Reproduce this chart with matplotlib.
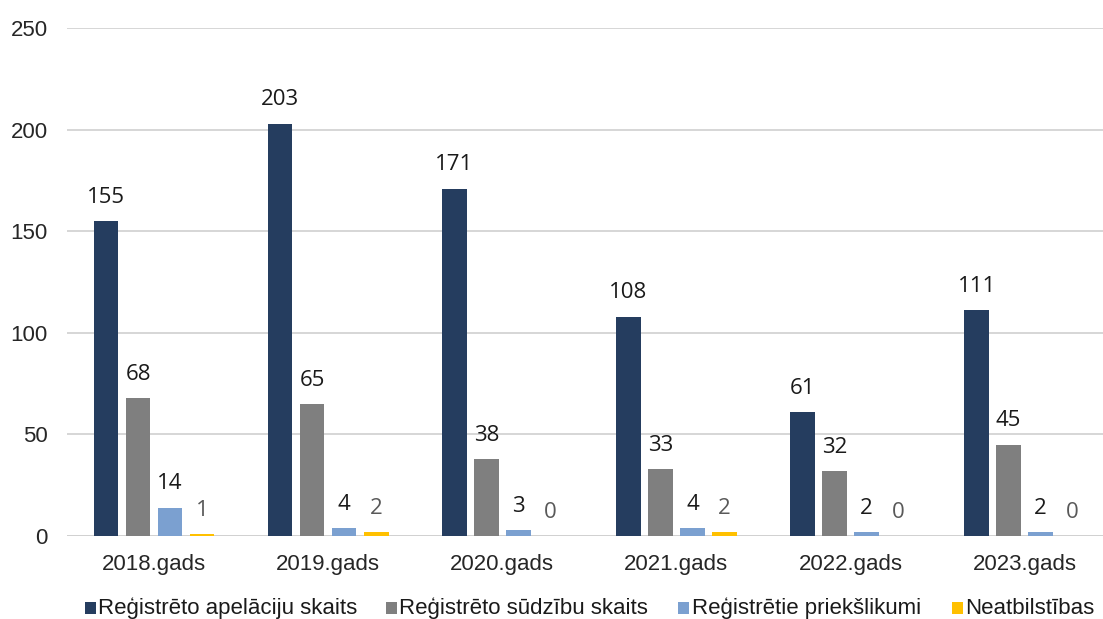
import numpy as np
import matplotlib.pyplot as plt
from matplotlib.patches import Rectangle

plt.rcParams['font.family'] = ['Liberation Sans', 'DejaVu Sans']

years = ['2018.gads', '2019.gads', '2020.gads', '2021.gads', '2022.gads', '2023.gads']
apelacijas = [155, 203, 171, 108, 61, 111]
sudzibas = [68, 65, 38, 33, 32, 45]
priekslikumi = [14, 4, 3, 4, 2, 2]
neatbilstibas = [1, 2, 0, 2, 0, 0]

series = [
    ('Reģistrēto apelāciju skaits', apelacijas, '#253d5f', '#1a1a1a'),
    ('Reģistrēto sūdzību skaits', sudzibas, '#7f7f7f', '#1a1a1a'),
    ('Reģistrētie priekšlikumi', priekslikumi, '#7ba0d0', '#1a1a1a'),
    ('Neatbilstības', neatbilstibas, '#ffc000', '#595959'),
]

fig = plt.figure(figsize=(11.03, 6.19), dpi=100)
ax = fig.add_axes([67 / 1103, 1 - 536 / 619, 1 - 67 / 1103, (536 - 28) / 619])

x = np.arange(len(years))
pitch = 0.184
width = 0.141
for i, (name, vals, color, lcolor) in enumerate(series):
    bars = ax.bar(x + (i - 1.5) * pitch, vals, width, color=color, zorder=3)
    ax.bar_label(bars, padding=9.5, fontsize=16, color=lcolor,
                 family=['Open Sans', 'DejaVu Sans'])

ax.set_xlim(-0.5, 5.45)
ax.set_ylim(0, 250)
ax.set_yticks(range(0, 251, 50))
ax.set_xticks(x)
ax.set_xticklabels(years)
ax.tick_params(axis='both', length=0, labelsize=16, colors='#262626')
ax.tick_params(axis='y', pad=14)
ax.tick_params(axis='x', pad=13)
ax.yaxis.grid(True, color='#d0d0d0', linewidth=1.2, zorder=0)
for s in ax.spines.values():
    s.set_visible(False)
ax.axhline(0, color='#d0d0d0', linewidth=1.2, zorder=2)

# legend drawn by hand to match the uneven spacing
marker_x = [90.5, 391, 684, 957]
for (name, vals, color, lcolor), mx in zip(series, marker_x):
    fig.patches.append(Rectangle(((mx - 5.5) / 1103, 1 - 614 / 619), 11 / 1103, 12 / 619,
                                 transform=fig.transFigure, facecolor=color, edgecolor='none'))
    fig.text((mx + 8) / 1103, 1 - 614 / 619, name, fontsize=16, color='#1a1a1a',
             va='baseline', ha='left')

fig.savefig('out.png', dpi=100)
